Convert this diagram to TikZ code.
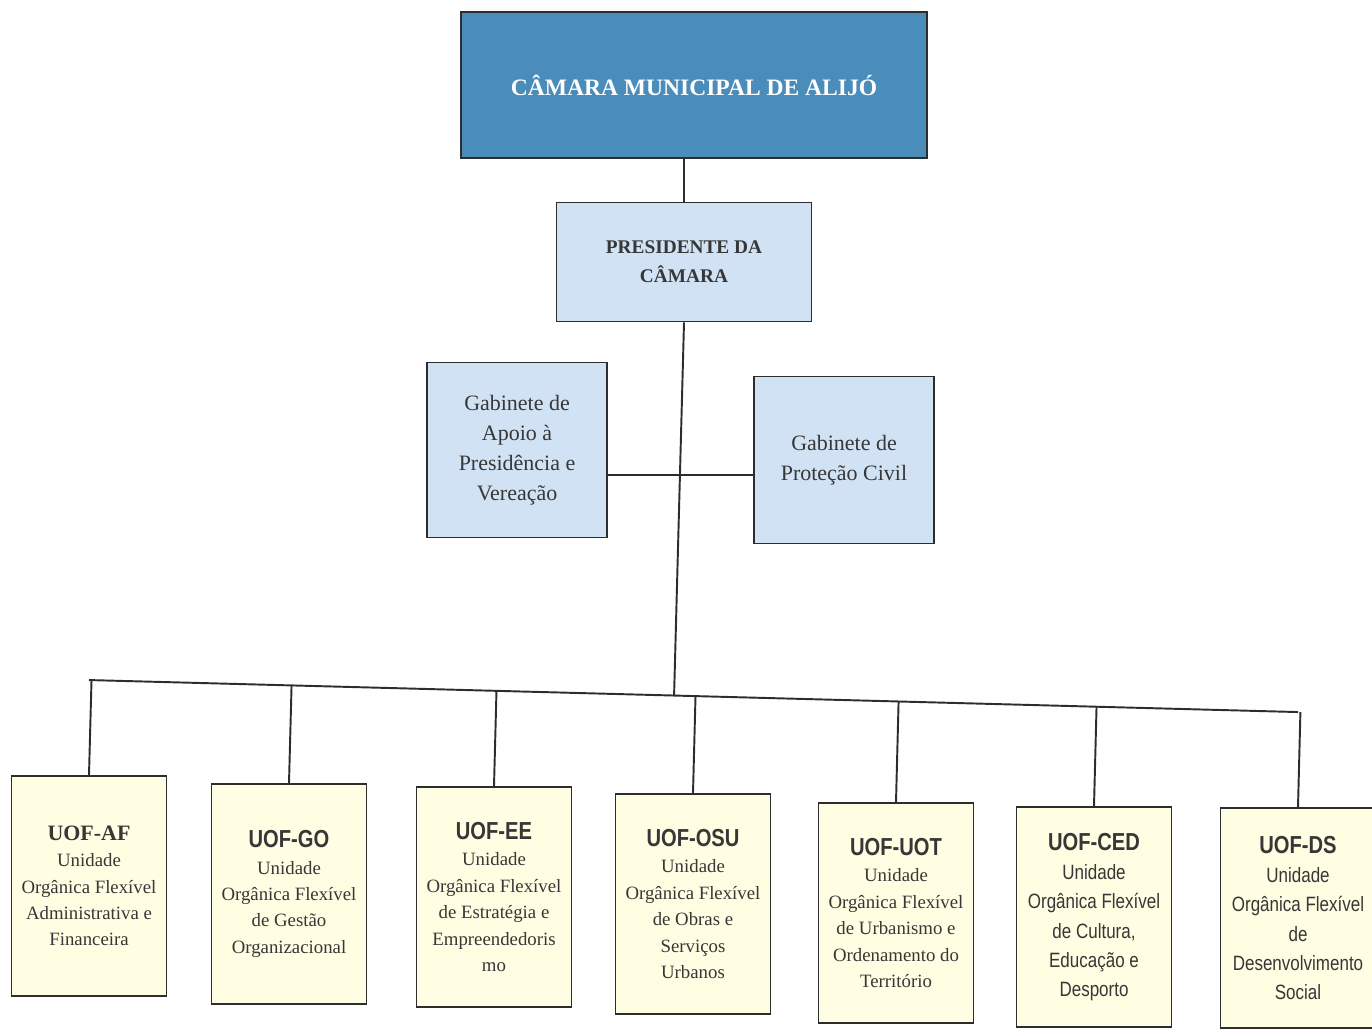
\documentclass[tikz,border=0pt]{standalone}
\usepackage{fontspec}
\setmainfont{Liberation Serif}
\newfontfamily\narrowsans[FakeStretch=0.82]{Liberation Sans}
\usepackage{xcolor}
\usetikzlibrary{positioning,calc}
\definecolor{cmblue}{RGB}{74,140,186}
\definecolor{palblue}{RGB}{208,226,243}
\definecolor{unitcream}{RGB}{255,253,226}
\definecolor{boxline}{RGB}{45,45,45}
\definecolor{bodytext}{RGB}{55,55,55}
\newcommand\uofname[1]{{\narrowsans\bfseries\fontsize{14}{16}\selectfont #1}}
\tikzset{
  cmbox/.style={draw=boxline, line width=1.6pt, fill=cmblue, minimum width=9.32cm,
                minimum height=2.92cm, text=white, font=\fontsize{13.4}{16}\selectfont\bfseries},
  presbox/.style={draw=boxline, line width=1.1pt, fill=palblue, minimum width=5.1cm,
                  minimum height=2.38cm, align=center, text=bodytext,
                  font=\fontsize{11}{16.5}\selectfont\bfseries},
  gabbox/.style={draw=boxline, line width=1.1pt, fill=palblue, minimum width=3.6cm,
                 align=center, text=bodytext, font=\fontsize{12.5}{17}\selectfont},
  unitbox/.style={draw=boxline, line width=1.1pt, fill=unitcream, minimum width=3.1cm,
                  minimum height=4.4cm, align=center, text=bodytext,
                  font=\fontsize{10.7}{15}\selectfont},
  sansunit/.style={unitbox, font=\narrowsans\fontsize{11.8}{16.7}\selectfont},
  link/.style={line width=1.1pt, boxline}
}
\begin{document}
\begin{tikzpicture}[x=0.02cm, y=-0.02cm]
\useasboundingbox (0,0) rectangle (1372,1030);
% top levels
\node[cmbox] (cm) at (694,85) {CÂMARA MUNICIPAL DE ALIJÓ};
\node[presbox] (pres) at (684,262) {PRESIDENTE DA\\CÂMARA};
\node[gabbox, minimum height=3.5cm] (gap) at (517,450) {Gabinete de\\Apoio à\\Presidência e\\Vereação};
\node[gabbox, minimum height=3.34cm] (gpc) at (844,460) {Gabinete de\\Proteção Civil};
% units
\node[unitbox] (af) at (89,886) {{\bfseries\fontsize{12.5}{16}\selectfont UOF-AF}\\Unidade\\Orgânica Flexível\\Administrativa e\\Financeira};
\node[unitbox] (go) at (289,894) {\uofname{UOF-GO}\\Unidade\\Orgânica Flexível\\de Gestão\\Organizacional};
\node[unitbox] (ee) at (494,897) {\uofname{UOF-EE}\\Unidade\\Orgânica Flexível\\de Estratégia e\\Empreendedoris\\mo};
\node[unitbox] (osu) at (693,904) {\uofname{UOF-OSU}\\Unidade\\Orgânica Flexível\\de Obras e\\Serviços\\Urbanos};
\node[unitbox] (uot) at (896,913) {\uofname{UOF-UOT}\\Unidade\\Orgânica Flexível\\de Urbanismo e\\Ordenamento do\\Território};
\node[sansunit] (ced) at (1094,917) {\uofname{UOF-CED}\\Unidade\\Orgânica Flexível\\de Cultura,\\Educação e\\Desporto};
\node[sansunit] (ds) at (1298,918) {\uofname{UOF-DS}\\Unidade\\Orgânica Flexível\\de\\Desenvolvimento\\Social};
% connectors
\draw[link] (pres.north) -- (pres.north |- cm.south);
\coordinate (hub) at ($(pres.south)+(0,153)$);
\draw[link] (hub) -- (hub -| gap.east);
\draw[link] (hub) -- (hub -| gpc.west);
\coordinate (busL) at ($(af.north)+(0,-95)$);
\coordinate (busR) at ($(ds.north)+(0,-95)$);
\draw[link] (busL) -- (busR);
\draw[link] (pres.south) -- ($(busL)!(pres.south)!(busR)$);
\foreach \u in {af,go,ee,osu,uot,ced,ds}
  \draw[link] (\u.north) -- ($(busL)!(\u.north)!(busR)$);
\end{tikzpicture}
\end{document}
